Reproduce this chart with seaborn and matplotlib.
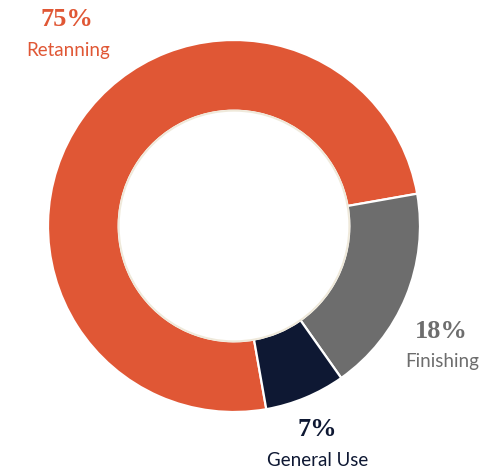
import matplotlib
matplotlib.use("Agg")
import matplotlib.pyplot as plt
import seaborn as sns

# Share of use by application
categories = ["Retanning", "Finishing", "General Use"]
shares = [75, 18, 7]
pct_labels = ["75%", "18%", "7%"]
colors = ["#E05735", "#6D6D6D", "#0E1833"]
label_colors = ["#E05735", "#6D6D6D", "#0E1833"]

sns.set_theme(style="white")
plt.rcParams["font.family"] = ["Lato", "DejaVu Sans"]

W, H = 492, 469
fig = plt.figure(figsize=(W / 100, H / 100), dpi=100)
ax = fig.add_axes([0, 0, 1, 1])
ax.set_xlim(0, W)
ax.set_ylim(0, H)
ax.set_aspect("equal")
ax.axis("off")

cx, cy = 234, H - 226
R_out = 186
ring = 0.38

wedges, _ = ax.pie(
    shares,
    colors=colors,
    startangle=280,
    counterclock=False,
    center=(cx, cy),
    radius=R_out,
    frame=True,
    wedgeprops=dict(width=R_out * ring, edgecolor="white", linewidth=1.6),
)
ax.set_xlim(0, W)
ax.set_ylim(0, H)
ax.axis("off")

# soft cream rim around the hole
hole = plt.Circle((cx, cy), R_out * (1 - ring), facecolor="white",
                  edgecolor="#EFE9DA", linewidth=1.4, zorder=3)
ax.add_patch(hole)

# label anchor points (x, y from top) for each category
pct_pos = [(67, 19), (441, 331), (317, 429)]
name_pos = [(68, 50), (442, 361), (318, 460)]

for i, name in enumerate(categories):
    px, py = pct_pos[i]
    ax.text(px, H - py, pct_labels[i], ha="center", va="center",
            fontsize=19, fontweight="bold", color=label_colors[i],
            family=["Liberation Serif", "DejaVu Serif"])
    nx, ny = name_pos[i]
    ax.text(nx, H - ny, name, ha="center", va="center",
            fontsize=13.5, color=label_colors[i],
            family=["Lato", "DejaVu Sans"])

fig.savefig("out.png", dpi=100, facecolor="white")
